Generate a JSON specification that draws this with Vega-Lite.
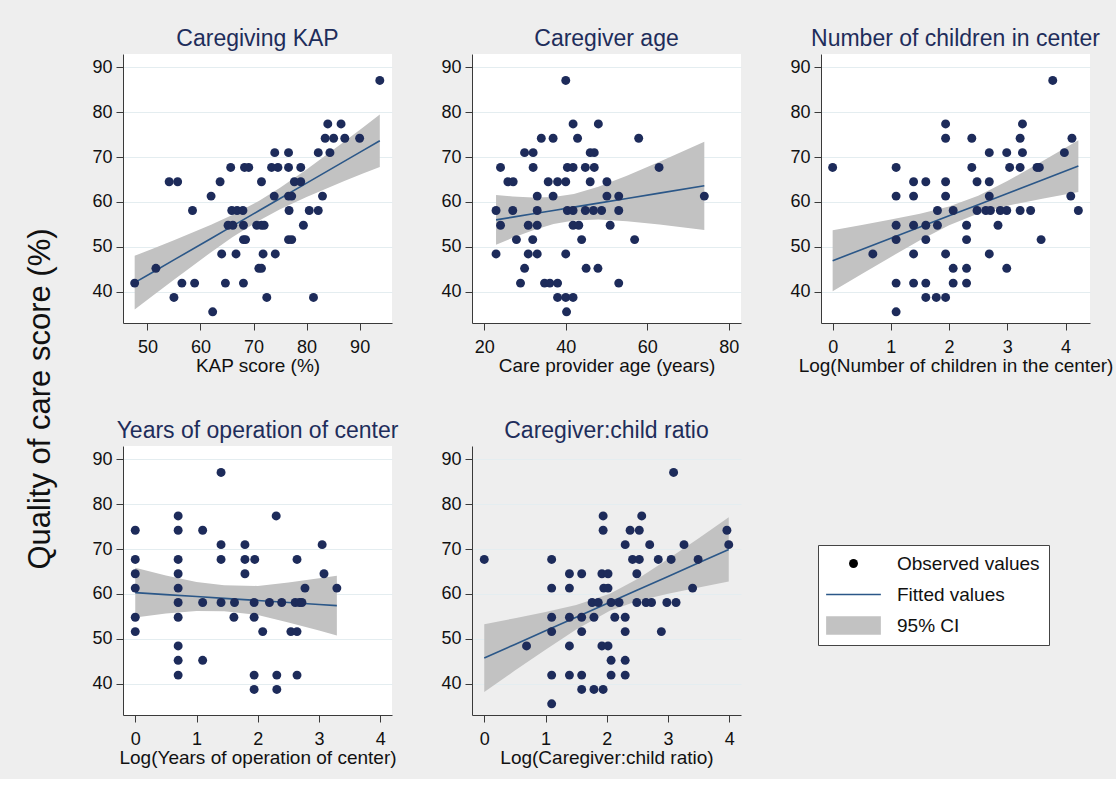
{
  "$schema": "https://vega.github.io/schema/vega-lite/v6.json",
  "background": "#eeeeee",
  "padding": {"left": 24, "top": 28, "right": 4, "bottom": 12},
  "title": {"text": "Quality of care score (%)", "orient": "left", "anchor": "middle", "fontSize": 31, "font": "Liberation Sans Narrow, Liberation Sans, sans-serif", "fontWeight": "normal", "color": "#111111", "offset": 35, "dx": -1.5},
  "datasets": {
    "obs": [
      {"p":1,"x":93.8,"y":87.1},
      {"p":1,"x":84.0,"y":77.4},{"p":1,"x":86.5,"y":77.4},
      {"p":1,"x":83.5,"y":74.2},{"p":1,"x":85.1,"y":74.2},{"p":1,"x":87.2,"y":74.2},{"p":1,"x":90.0,"y":74.2},
      {"p":1,"x":74.0,"y":71.0},{"p":1,"x":76.6,"y":71.0},{"p":1,"x":82.2,"y":71.0},{"p":1,"x":84.4,"y":71.0},
      {"p":1,"x":65.7,"y":67.7},{"p":1,"x":68.3,"y":67.7},{"p":1,"x":69.1,"y":67.7},{"p":1,"x":73.4,"y":67.7},{"p":1,"x":74.6,"y":67.7},{"p":1,"x":76.6,"y":67.7},{"p":1,"x":78.9,"y":67.7},
      {"p":1,"x":54.1,"y":64.5},{"p":1,"x":55.7,"y":64.5},{"p":1,"x":63.7,"y":64.5},{"p":1,"x":71.5,"y":64.5},{"p":1,"x":77.7,"y":64.5},{"p":1,"x":78.9,"y":64.5},
      {"p":1,"x":62.0,"y":61.3},{"p":1,"x":73.9,"y":61.3},{"p":1,"x":76.6,"y":61.3},{"p":1,"x":77.2,"y":61.3},{"p":1,"x":83.0,"y":61.3},
      {"p":1,"x":58.5,"y":58.1},{"p":1,"x":65.9,"y":58.1},{"p":1,"x":66.9,"y":58.1},{"p":1,"x":68.0,"y":58.1},{"p":1,"x":76.7,"y":58.1},{"p":1,"x":80.5,"y":58.1},{"p":1,"x":82.2,"y":58.1},
      {"p":1,"x":65.2,"y":54.8},{"p":1,"x":66.1,"y":54.8},{"p":1,"x":68.1,"y":54.8},{"p":1,"x":70.6,"y":54.8},{"p":1,"x":71.5,"y":54.8},{"p":1,"x":72.0,"y":54.8},{"p":1,"x":79.4,"y":54.8},
      {"p":1,"x":68.1,"y":51.6},{"p":1,"x":68.5,"y":51.6},{"p":1,"x":76.6,"y":51.6},{"p":1,"x":77.2,"y":51.6},
      {"p":1,"x":64.0,"y":48.4},{"p":1,"x":66.7,"y":48.4},{"p":1,"x":71.8,"y":48.4},{"p":1,"x":74.1,"y":48.4},
      {"p":1,"x":51.6,"y":45.2},{"p":1,"x":71.0,"y":45.2},{"p":1,"x":71.5,"y":45.2},
      {"p":1,"x":47.6,"y":41.9},{"p":1,"x":56.5,"y":41.9},{"p":1,"x":58.9,"y":41.9},{"p":1,"x":64.7,"y":41.9},{"p":1,"x":68.1,"y":41.9},
      {"p":1,"x":55.0,"y":38.7},{"p":1,"x":72.5,"y":38.7},{"p":1,"x":81.3,"y":38.7},
      {"p":1,"x":62.3,"y":35.5},

      {"p":2,"x":40.0,"y":87.1},
      {"p":2,"x":41.8,"y":77.4},{"p":2,"x":48.0,"y":77.4},
      {"p":2,"x":34.0,"y":74.2},{"p":2,"x":36.9,"y":74.2},{"p":2,"x":42.9,"y":74.2},{"p":2,"x":57.9,"y":74.2},
      {"p":2,"x":29.9,"y":71.0},{"p":2,"x":32.0,"y":71.0},{"p":2,"x":46.0,"y":71.0},{"p":2,"x":47.0,"y":71.0},
      {"p":2,"x":24.0,"y":67.7},{"p":2,"x":32.0,"y":67.7},{"p":2,"x":40.4,"y":67.7},{"p":2,"x":41.8,"y":67.7},{"p":2,"x":44.8,"y":67.7},{"p":2,"x":47.0,"y":67.7},{"p":2,"x":62.9,"y":67.7},
      {"p":2,"x":25.8,"y":64.5},{"p":2,"x":27.1,"y":64.5},{"p":2,"x":35.7,"y":64.5},{"p":2,"x":38.0,"y":64.5},{"p":2,"x":40.0,"y":64.5},{"p":2,"x":46.0,"y":64.5},{"p":2,"x":50.1,"y":64.5},
      {"p":2,"x":33.0,"y":61.3},{"p":2,"x":36.9,"y":61.3},{"p":2,"x":50.1,"y":61.3},{"p":2,"x":53.0,"y":61.3},{"p":2,"x":74.0,"y":61.3},
      {"p":2,"x":22.9,"y":58.1},{"p":2,"x":27.0,"y":58.1},{"p":2,"x":33.0,"y":58.1},{"p":2,"x":40.4,"y":58.1},{"p":2,"x":41.8,"y":58.1},{"p":2,"x":44.8,"y":58.1},{"p":2,"x":46.8,"y":58.1},{"p":2,"x":48.8,"y":58.1},{"p":2,"x":53.0,"y":58.1},
      {"p":2,"x":24.0,"y":54.8},{"p":2,"x":30.8,"y":54.8},{"p":2,"x":33.0,"y":54.8},{"p":2,"x":41.8,"y":54.8},{"p":2,"x":43.2,"y":54.8},{"p":2,"x":50.9,"y":54.8},
      {"p":2,"x":27.9,"y":51.6},{"p":2,"x":31.9,"y":51.6},{"p":2,"x":43.9,"y":51.6},{"p":2,"x":56.9,"y":51.6},
      {"p":2,"x":22.9,"y":48.4},{"p":2,"x":30.8,"y":48.4},{"p":2,"x":33.0,"y":48.4},{"p":2,"x":40.0,"y":48.4},
      {"p":2,"x":29.9,"y":45.2},{"p":2,"x":45.0,"y":45.2},{"p":2,"x":47.9,"y":45.2},
      {"p":2,"x":28.9,"y":41.9},{"p":2,"x":34.8,"y":41.9},{"p":2,"x":36.1,"y":41.9},{"p":2,"x":38.0,"y":41.9},{"p":2,"x":53.0,"y":41.9},
      {"p":2,"x":38.0,"y":38.7},{"p":2,"x":40.0,"y":38.7},{"p":2,"x":41.8,"y":38.7},
      {"p":2,"x":40.2,"y":35.5},

      {"p":3,"x":3.78,"y":87.1},
      {"p":3,"x":1.94,"y":77.4},{"p":3,"x":3.26,"y":77.4},
      {"p":3,"x":1.94,"y":74.2},{"p":3,"x":2.39,"y":74.2},{"p":3,"x":3.22,"y":74.2},{"p":3,"x":4.11,"y":74.2},
      {"p":3,"x":2.69,"y":71.0},{"p":3,"x":2.99,"y":71.0},{"p":3,"x":3.26,"y":71.0},{"p":3,"x":3.98,"y":71.0},
      {"p":3,"x":0.0,"y":67.7},{"p":3,"x":1.09,"y":67.7},{"p":3,"x":2.39,"y":67.7},{"p":3,"x":3.04,"y":67.7},{"p":3,"x":3.22,"y":67.7},{"p":3,"x":3.51,"y":67.7},{"p":3,"x":3.55,"y":67.7},
      {"p":3,"x":1.39,"y":64.5},{"p":3,"x":1.60,"y":64.5},{"p":3,"x":1.94,"y":64.5},{"p":3,"x":2.48,"y":64.5},{"p":3,"x":2.69,"y":64.5},
      {"p":3,"x":1.09,"y":61.3},{"p":3,"x":1.39,"y":61.3},{"p":3,"x":1.94,"y":61.3},{"p":3,"x":2.69,"y":61.3},{"p":3,"x":4.09,"y":61.3},
      {"p":3,"x":1.80,"y":58.1},{"p":3,"x":2.07,"y":58.1},{"p":3,"x":2.48,"y":58.1},{"p":3,"x":2.63,"y":58.1},{"p":3,"x":2.71,"y":58.1},{"p":3,"x":2.88,"y":58.1},{"p":3,"x":2.99,"y":58.1},{"p":3,"x":3.22,"y":58.1},{"p":3,"x":3.40,"y":58.1},{"p":3,"x":4.22,"y":58.1},
      {"p":3,"x":1.09,"y":54.8},{"p":3,"x":1.39,"y":54.8},{"p":3,"x":1.60,"y":54.8},{"p":3,"x":1.80,"y":54.8},{"p":3,"x":2.30,"y":54.8},{"p":3,"x":2.84,"y":54.8},
      {"p":3,"x":1.09,"y":51.6},{"p":3,"x":1.60,"y":51.6},{"p":3,"x":2.30,"y":51.6},{"p":3,"x":3.58,"y":51.6},
      {"p":3,"x":0.69,"y":48.4},{"p":3,"x":1.39,"y":48.4},{"p":3,"x":1.94,"y":48.4},{"p":3,"x":2.69,"y":48.4},
      {"p":3,"x":2.07,"y":45.2},{"p":3,"x":2.30,"y":45.2},{"p":3,"x":2.99,"y":45.2},
      {"p":3,"x":1.09,"y":41.9},{"p":3,"x":1.39,"y":41.9},{"p":3,"x":1.60,"y":41.9},{"p":3,"x":2.07,"y":41.9},{"p":3,"x":2.30,"y":41.9},
      {"p":3,"x":1.60,"y":38.7},{"p":3,"x":1.78,"y":38.7},{"p":3,"x":1.94,"y":38.7},
      {"p":3,"x":1.09,"y":35.5},

      {"p":4,"x":1.40,"y":87.1},
      {"p":4,"x":0.70,"y":77.4},{"p":4,"x":2.30,"y":77.4},
      {"p":4,"x":0.0,"y":74.2},{"p":4,"x":0.70,"y":74.2},{"p":4,"x":1.10,"y":74.2},
      {"p":4,"x":1.40,"y":71.0},{"p":4,"x":1.79,"y":71.0},{"p":4,"x":3.05,"y":71.0},
      {"p":4,"x":0.0,"y":67.7},{"p":4,"x":0.70,"y":67.7},{"p":4,"x":1.40,"y":67.7},{"p":4,"x":1.79,"y":67.7},{"p":4,"x":1.95,"y":67.7},{"p":4,"x":2.64,"y":67.7},
      {"p":4,"x":0.0,"y":64.5},{"p":4,"x":0.70,"y":64.5},{"p":4,"x":1.79,"y":64.5},{"p":4,"x":3.08,"y":64.5},
      {"p":4,"x":0.0,"y":61.3},{"p":4,"x":0.70,"y":61.3},{"p":4,"x":2.77,"y":61.3},{"p":4,"x":3.29,"y":61.3},
      {"p":4,"x":0.70,"y":58.1},{"p":4,"x":1.10,"y":58.1},{"p":4,"x":1.40,"y":58.1},{"p":4,"x":1.62,"y":58.1},{"p":4,"x":1.94,"y":58.1},{"p":4,"x":2.19,"y":58.1},{"p":4,"x":2.39,"y":58.1},{"p":4,"x":2.61,"y":58.1},{"p":4,"x":2.68,"y":58.1},{"p":4,"x":2.72,"y":58.1},
      {"p":4,"x":0.0,"y":54.8},{"p":4,"x":0.70,"y":54.8},{"p":4,"x":1.61,"y":54.8},{"p":4,"x":1.94,"y":54.8},
      {"p":4,"x":0.0,"y":51.6},{"p":4,"x":2.08,"y":51.6},{"p":4,"x":2.54,"y":51.6},{"p":4,"x":2.64,"y":51.6},
      {"p":4,"x":0.70,"y":48.4},
      {"p":4,"x":0.70,"y":45.2},{"p":4,"x":1.10,"y":45.2},
      {"p":4,"x":0.70,"y":41.9},{"p":4,"x":1.94,"y":41.9},{"p":4,"x":2.31,"y":41.9},{"p":4,"x":2.64,"y":41.9},
      {"p":4,"x":1.94,"y":38.7},{"p":4,"x":2.31,"y":38.7},

      {"p":5,"x":3.09,"y":87.1},
      {"p":5,"x":1.94,"y":77.4},{"p":5,"x":2.57,"y":77.4},
      {"p":5,"x":1.94,"y":74.2},{"p":5,"x":2.38,"y":74.2},{"p":5,"x":2.53,"y":74.2},{"p":5,"x":3.96,"y":74.2},
      {"p":5,"x":2.30,"y":71.0},{"p":5,"x":2.70,"y":71.0},{"p":5,"x":3.26,"y":71.0},{"p":5,"x":3.99,"y":71.0},
      {"p":5,"x":0.0,"y":67.7},{"p":5,"x":1.10,"y":67.7},{"p":5,"x":2.42,"y":67.7},{"p":5,"x":2.53,"y":67.7},{"p":5,"x":2.84,"y":67.7},{"p":5,"x":3.05,"y":67.7},{"p":5,"x":3.49,"y":67.7},
      {"p":5,"x":1.39,"y":64.5},{"p":5,"x":1.59,"y":64.5},{"p":5,"x":1.92,"y":64.5},{"p":5,"x":2.02,"y":64.5},{"p":5,"x":2.49,"y":64.5},
      {"p":5,"x":1.10,"y":61.3},{"p":5,"x":1.39,"y":61.3},{"p":5,"x":1.95,"y":61.3},{"p":5,"x":2.02,"y":61.3},{"p":5,"x":3.40,"y":61.3},
      {"p":5,"x":1.76,"y":58.1},{"p":5,"x":1.86,"y":58.1},{"p":5,"x":2.07,"y":58.1},{"p":5,"x":2.20,"y":58.1},{"p":5,"x":2.49,"y":58.1},{"p":5,"x":2.64,"y":58.1},{"p":5,"x":2.73,"y":58.1},{"p":5,"x":2.98,"y":58.1},{"p":5,"x":3.13,"y":58.1},
      {"p":5,"x":1.10,"y":54.8},{"p":5,"x":1.39,"y":54.8},{"p":5,"x":1.59,"y":54.8},{"p":5,"x":1.79,"y":54.8},{"p":5,"x":2.13,"y":54.8},{"p":5,"x":2.30,"y":54.8},
      {"p":5,"x":1.10,"y":51.6},{"p":5,"x":1.59,"y":51.6},{"p":5,"x":2.30,"y":51.6},{"p":5,"x":2.89,"y":51.6},
      {"p":5,"x":0.69,"y":48.4},{"p":5,"x":1.39,"y":48.4},{"p":5,"x":1.92,"y":48.4},{"p":5,"x":2.02,"y":48.4},
      {"p":5,"x":2.07,"y":45.2},{"p":5,"x":2.30,"y":45.2},
      {"p":5,"x":1.10,"y":41.9},{"p":5,"x":1.39,"y":41.9},{"p":5,"x":1.59,"y":41.9},{"p":5,"x":2.07,"y":41.9},{"p":5,"x":2.30,"y":41.9},
      {"p":5,"x":1.59,"y":38.7},{"p":5,"x":1.79,"y":38.7},{"p":5,"x":1.94,"y":38.7},
      {"p":5,"x":1.10,"y":35.5}
    ],
    "fit": [
      {"p":1,"x":47.6,"fit":42.0,"lo":36.0,"hi":48.0},
      {"p":1,"x":51.0,"fit":44.33,"lo":39.08,"hi":49.58},
      {"p":1,"x":55.0,"fit":47.07,"lo":42.67,"hi":51.47},
      {"p":1,"x":62.0,"fit":51.86,"lo":48.79,"hi":54.93},
      {"p":1,"x":66.0,"fit":54.60,"lo":52.10,"hi":57.10},
      {"p":1,"x":71.0,"fit":58.03,"lo":55.83,"hi":60.23},
      {"p":1,"x":75.0,"fit":60.77,"lo":58.37,"hi":63.17},
      {"p":1,"x":80.0,"fit":64.19,"lo":61.12,"hi":67.26},
      {"p":1,"x":87.0,"fit":68.99,"lo":64.59,"hi":73.39},
      {"p":1,"x":90.5,"fit":71.39,"lo":66.29,"hi":76.49},
      {"p":1,"x":93.8,"fit":73.65,"lo":67.78,"hi":79.52},

      {"p":2,"x":22.9,"fit":56.0,"lo":50.45,"hi":61.55},
      {"p":2,"x":27.0,"fit":56.61,"lo":51.99,"hi":61.23},
      {"p":2,"x":32.0,"fit":57.35,"lo":53.70,"hi":61.00},
      {"p":2,"x":37.0,"fit":58.10,"lo":55.09,"hi":61.11},
      {"p":2,"x":42.0,"fit":58.84,"lo":55.89,"hi":61.79},
      {"p":2,"x":48.0,"fit":59.73,"lo":56.08,"hi":63.38},
      {"p":2,"x":55.0,"fit":60.77,"lo":55.71,"hi":65.83},
      {"p":2,"x":63.0,"fit":61.96,"lo":54.96,"hi":68.96},
      {"p":2,"x":74.0,"fit":63.60,"lo":53.75,"hi":73.45},

      {"p":3,"x":0.0,"fit":46.9,"lo":40.1,"hi":53.7},
      {"p":3,"x":0.5,"fit":49.4,"lo":43.94,"hi":54.86},
      {"p":3,"x":1.0,"fit":51.9,"lo":47.74,"hi":56.06},
      {"p":3,"x":1.5,"fit":54.4,"lo":51.44,"hi":57.36},
      {"p":3,"x":2.0,"fit":56.9,"lo":54.82,"hi":58.98},
      {"p":3,"x":2.5,"fit":59.4,"lo":57.42,"hi":61.38},
      {"p":3,"x":3.0,"fit":61.9,"lo":59.15,"hi":64.65},
      {"p":3,"x":3.6,"fit":64.9,"lo":60.74,"hi":69.06},
      {"p":3,"x":4.22,"fit":68.0,"lo":62.21,"hi":73.79},

      {"p":4,"x":0.0,"fit":60.3,"lo":54.76,"hi":65.84},
      {"p":4,"x":0.5,"fit":59.86,"lo":55.62,"hi":64.10},
      {"p":4,"x":1.0,"fit":59.42,"lo":56.17,"hi":62.67},
      {"p":4,"x":1.45,"fit":59.02,"lo":56.12,"hi":61.92},
      {"p":4,"x":2.0,"fit":58.54,"lo":55.29,"hi":61.79},
      {"p":4,"x":2.5,"fit":58.10,"lo":53.62,"hi":62.58},
      {"p":4,"x":3.0,"fit":57.66,"lo":51.84,"hi":63.48},
      {"p":4,"x":3.29,"fit":57.40,"lo":50.74,"hi":64.06},

      {"p":5,"x":0.0,"fit":45.7,"lo":38.15,"hi":53.25},
      {"p":5,"x":0.5,"fit":48.74,"lo":42.90,"hi":54.58},
      {"p":5,"x":1.0,"fit":51.77,"lo":47.57,"hi":55.97},
      {"p":5,"x":1.5,"fit":54.81,"lo":52.08,"hi":57.54},
      {"p":5,"x":2.05,"fit":58.14,"lo":56.24,"hi":60.04},
      {"p":5,"x":2.5,"fit":60.88,"lo":58.40,"hi":63.36},
      {"p":5,"x":3.0,"fit":63.91,"lo":60.03,"hi":67.79},
      {"p":5,"x":3.5,"fit":66.95,"lo":61.45,"hi":72.45},
      {"p":5,"x":3.99,"fit":69.92,"lo":62.75,"hi":77.09}
    ]
  },
  "columns": 3,
  "spacing": {"row": 123, "column": 80},
  "bounds": "flush",
  "concat": [
    {
      "width": 269, "height": 269,
      "title": "Caregiving KAP",
      "layer": [
        {"data": {"name": "fit"}, "transform": [{"filter": "datum.p == 1"}], "mark": {"type": "area", "color": "#c2c2c2", "opacity": 1},
         "encoding": {"x": {"field": "x", "type": "quantitative", "scale": {"domain": [45.4, 96.1], "nice": false, "zero": false}, "axis": {"values": [50,60,70,80,90], "format": "d", "title": "KAP score (%)"}},
                      "y": {"field": "lo", "type": "quantitative", "scale": {"domain": [33, 93], "nice": false, "zero": false}, "axis": {"values": [40,50,60,70,80,90], "title": null}}, "y2": {"field": "hi"}}},
        {"data": {"name": "fit"}, "transform": [{"filter": "datum.p == 1"}], "mark": {"type": "line", "color": "#2b5788", "strokeWidth": 1.6},
         "encoding": {"x": {"field": "x", "type": "quantitative"}, "y": {"field": "fit", "type": "quantitative"}}},
        {"data": {"name": "obs"}, "transform": [{"filter": "datum.p == 1"}], "mark": {"type": "point", "filled": true, "size": 80, "color": "#1d2b5a", "opacity": 1},
         "encoding": {"x": {"field": "x", "type": "quantitative"}, "y": {"field": "y", "type": "quantitative"}}}
      ]
    },
    {
      "width": 269, "height": 269,
      "title": "Caregiver age",
      "layer": [
        {"data": {"name": "fit"}, "transform": [{"filter": "datum.p == 2"}], "mark": {"type": "area", "color": "#c2c2c2", "opacity": 1},
         "encoding": {"x": {"field": "x", "type": "quantitative", "scale": {"domain": [17, 83], "nice": false, "zero": false}, "axis": {"values": [20,40,60,80], "format": "d", "title": "Care provider age (years)"}},
                      "y": {"field": "lo", "type": "quantitative", "scale": {"domain": [33, 93], "nice": false, "zero": false}, "axis": {"values": [40,50,60,70,80,90], "title": null}}, "y2": {"field": "hi"}}},
        {"data": {"name": "fit"}, "transform": [{"filter": "datum.p == 2"}], "mark": {"type": "line", "color": "#2b5788", "strokeWidth": 1.6},
         "encoding": {"x": {"field": "x", "type": "quantitative"}, "y": {"field": "fit", "type": "quantitative"}}},
        {"data": {"name": "obs"}, "transform": [{"filter": "datum.p == 2"}], "mark": {"type": "point", "filled": true, "size": 80, "color": "#1d2b5a", "opacity": 1},
         "encoding": {"x": {"field": "x", "type": "quantitative"}, "y": {"field": "y", "type": "quantitative"}}}
      ]
    },
    {
      "width": 269, "height": 269,
      "title": "Number of children in center",
      "layer": [
        {"data": {"name": "fit"}, "transform": [{"filter": "datum.p == 3"}], "mark": {"type": "area", "color": "#c2c2c2", "opacity": 1},
         "encoding": {"x": {"field": "x", "type": "quantitative", "scale": {"domain": [-0.2, 4.42], "nice": false, "zero": false}, "axis": {"values": [0,1,2,3,4], "format": "d", "title": "Log(Number of children in the center)"}},
                      "y": {"field": "lo", "type": "quantitative", "scale": {"domain": [33, 93], "nice": false, "zero": false}, "axis": {"values": [40,50,60,70,80,90], "title": null}}, "y2": {"field": "hi"}}},
        {"data": {"name": "fit"}, "transform": [{"filter": "datum.p == 3"}], "mark": {"type": "line", "color": "#2b5788", "strokeWidth": 1.6},
         "encoding": {"x": {"field": "x", "type": "quantitative"}, "y": {"field": "fit", "type": "quantitative"}}},
        {"data": {"name": "obs"}, "transform": [{"filter": "datum.p == 3"}], "mark": {"type": "point", "filled": true, "size": 80, "color": "#1d2b5a", "opacity": 1},
         "encoding": {"x": {"field": "x", "type": "quantitative"}, "y": {"field": "y", "type": "quantitative"}}}
      ]
    },
    {
      "width": 269, "height": 269,
      "title": "Years of operation of center",
      "layer": [
        {"data": {"name": "fit"}, "transform": [{"filter": "datum.p == 4"}], "mark": {"type": "area", "color": "#c2c2c2", "opacity": 1},
         "encoding": {"x": {"field": "x", "type": "quantitative", "scale": {"domain": [-0.2, 4.19], "nice": false, "zero": false}, "axis": {"values": [0,1,2,3,4], "format": "d", "title": "Log(Years of operation of center)"}},
                      "y": {"field": "lo", "type": "quantitative", "scale": {"domain": [33, 93], "nice": false, "zero": false}, "axis": {"values": [40,50,60,70,80,90], "title": null}}, "y2": {"field": "hi"}}},
        {"data": {"name": "fit"}, "transform": [{"filter": "datum.p == 4"}], "mark": {"type": "line", "color": "#2b5788", "strokeWidth": 1.6},
         "encoding": {"x": {"field": "x", "type": "quantitative"}, "y": {"field": "fit", "type": "quantitative"}}},
        {"data": {"name": "obs"}, "transform": [{"filter": "datum.p == 4"}], "mark": {"type": "point", "filled": true, "size": 80, "color": "#1d2b5a", "opacity": 1},
         "encoding": {"x": {"field": "x", "type": "quantitative"}, "y": {"field": "y", "type": "quantitative"}}}
      ]
    },
    {
      "width": 269, "height": 269,
      "title": "Caregiver:child ratio",
      "layer": [
        {"data": {"name": "fit"}, "transform": [{"filter": "datum.p == 5"}], "mark": {"type": "area", "color": "#c2c2c2", "opacity": 1},
         "encoding": {"x": {"field": "x", "type": "quantitative", "scale": {"domain": [-0.2, 4.19], "nice": false, "zero": false}, "axis": {"values": [0,1,2,3,4], "format": "d", "title": "Log(Caregiver:child ratio)"}},
                      "y": {"field": "lo", "type": "quantitative", "scale": {"domain": [33, 93], "nice": false, "zero": false}, "axis": {"values": [40,50,60,70,80,90], "title": null}}, "y2": {"field": "hi"}}},
        {"data": {"name": "fit"}, "transform": [{"filter": "datum.p == 5"}], "mark": {"type": "line", "color": "#2b5788", "strokeWidth": 1.6},
         "encoding": {"x": {"field": "x", "type": "quantitative"}, "y": {"field": "fit", "type": "quantitative"}}},
        {"data": {"name": "obs"}, "transform": [{"filter": "datum.p == 5"}], "mark": {"type": "point", "filled": true, "size": 80, "color": "#1d2b5a", "opacity": 1},
         "encoding": {"x": {"field": "x", "type": "quantitative"}, "y": {"field": "y", "type": "quantitative"}}},
        {"data": {"values": [{"item": "Observed values"}, {"item": "Fitted values"}, {"item": "95% CI"}]}, "transform": [{"filter": "false"}],
         "mark": {"type": "point", "filled": true, "size": 80, "opacity": 1},
         "encoding": {
           "color": {"field": "item", "type": "nominal", "scale": {"domain": ["Observed values", "Fitted values", "95% CI"], "range": ["#000000", "#2b5788", "#c2c2c2"]},
                     "legend": {"orient": "none", "legendX": 695, "legendY": 491, "title": null, "fillColor": "#ffffff", "strokeColor": "#444444", "padding": 9, "symbolOffset": 17, "labelOffset": 34, "rowPadding": 11, "labelFontSize": 19, "labelFont": "Liberation Sans", "labelColor": "#111111", "symbolStrokeWidth": 0, "symbolSize": 80}},
           "shape": {"field": "item", "type": "nominal", "scale": {"domain": ["Observed values", "Fitted values", "95% CI"], "range": ["circle", "M-6.12,-0.18H6.12V0.18H-6.12Z", "M-6.12,-2.09H6.12V2.09H-6.12Z"]}}
         }}
      ]
    }
  ],
  "config": {
    "font": "Liberation Sans",
    "view": {"fill": "#ffffff", "stroke": null},
    "axis": {"domainColor": "#3a3a3a", "tickColor": "#3a3a3a", "tickSize": 7, "labelFontSize": 18, "labelColor": "#111111", "titleFontSize": 19, "titleFontWeight": "normal", "titleColor": "#111111", "grid": false, "labelFont": "Liberation Sans", "titleFont": "Liberation Sans", "labelOverlap": false},
    "axisY": {"grid": true, "gridColor": "#e4edf0", "labelPadding": 4},
    "axisX": {"labelPadding": 8, "titlePadding": 0, "labelFlush": false},
    "title": {"fontSize": 23, "fontWeight": "normal", "color": "#1e2d5b", "offset": 3, "font": "Liberation Sans"}
  }
}
